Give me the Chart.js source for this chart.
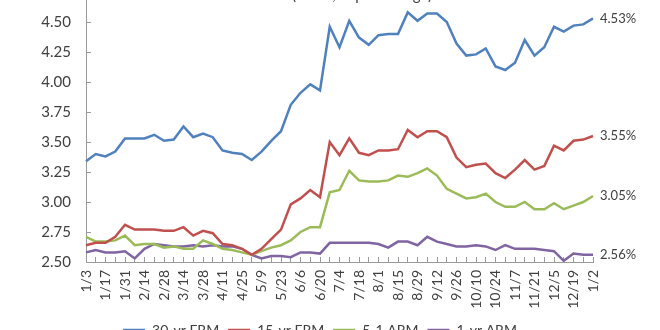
<!DOCTYPE html>
<html>
<head>
<meta charset="utf-8">
<script src="https://cdn.jsdelivr.net/npm/chart.js"></script>
<style>
  html, body { margin: 0; padding: 0; background: #fff; }
  #wrap { position: relative; width: 660px; height: 330px; overflow: hidden; background: #fff; }
  #holder { position: absolute; left: 0; top: -40px; width: 660px; height: 391px; }
</style>
</head>
<body>
<div id="wrap"><div id="holder"><canvas id="rateChart"></canvas></div></div>
<script>
// weekly survey dates, 1/3/2013 .. 1/2/2014
const weeks = ['1/3','1/10','1/17','1/24','1/31','2/7','2/14','2/21','2/28','3/7','3/14','3/21','3/28',
  '4/4','4/11','4/18','4/25','5/2','5/9','5/16','5/23','5/30','6/6','6/13','6/20','6/27',
  '7/4','7/11','7/18','7/25','8/1','8/8','8/15','8/22','8/29','9/5','9/12','9/19','9/26',
  '10/3','10/10','10/17','10/24','10/31','11/7','11/14','11/21','11/28','12/5','12/12','12/19','12/26','1/2'];

const frm30 = [3.34,3.40,3.38,3.42,3.53,3.53,3.53,3.56,3.51,3.52,3.63,3.54,3.57,3.54,3.43,3.41,3.40,3.35,3.42,3.51,
  3.59,3.81,3.91,3.98,3.93,4.46,4.29,4.51,4.37,4.31,4.39,4.40,4.40,4.58,4.51,4.57,4.57,4.50,4.32,4.22,
  4.23,4.28,4.13,4.10,4.16,4.35,4.22,4.29,4.46,4.42,4.47,4.48,4.53];
const frm15 = [2.64,2.66,2.66,2.71,2.81,2.77,2.77,2.77,2.76,2.76,2.79,2.72,2.76,2.74,2.65,2.64,2.61,2.56,2.61,2.69,
  2.77,2.98,3.03,3.10,3.04,3.50,3.39,3.53,3.41,3.39,3.43,3.43,3.44,3.60,3.54,3.59,3.59,3.54,3.37,3.29,
  3.31,3.32,3.24,3.20,3.27,3.35,3.27,3.30,3.47,3.43,3.51,3.52,3.55];
const arm51 = [2.71,2.67,2.67,2.68,2.72,2.64,2.65,2.65,2.62,2.63,2.61,2.61,2.68,2.65,2.61,2.60,2.58,2.56,2.59,2.62,
  2.64,2.68,2.75,2.79,2.79,3.08,3.10,3.26,3.18,3.17,3.17,3.18,3.22,3.21,3.24,3.28,3.22,3.11,3.07,3.03,
  3.04,3.07,3.00,2.96,2.96,3.00,2.94,2.94,2.99,2.94,2.97,3.00,3.05];
const arm1 = [2.58,2.60,2.58,2.58,2.59,2.53,2.61,2.65,2.64,2.63,2.63,2.64,2.63,2.64,2.63,2.63,2.61,2.56,2.53,2.55,
  2.55,2.54,2.58,2.58,2.57,2.66,2.66,2.66,2.66,2.66,2.65,2.62,2.67,2.67,2.64,2.71,2.67,2.65,2.63,2.63,
  2.64,2.63,2.60,2.64,2.61,2.61,2.61,2.60,2.59,2.51,2.57,2.56,2.56];

const seriesNames = ['30-yr FRM', '15-yr FRM', '5-1 ARM', '1-yr ARM'];
const seriesColors = ['#4F81BD', '#C0504D', '#9BBB59', '#8064A2'];
const yTicks = [2.50, 2.75, 3.00, 3.25, 3.50, 3.75, 4.00, 4.25, 4.50, 4.75];
const chartTitle = '(Rates, in percentage)';

const FONT = 'Lato, "Open Sans", sans-serif';
const TEXT = '#404040';
const AXIS = '#9a9a9a';

// end-of-line value labels and the overlapping title
const extrasPlugin = {
  id: 'extras',
  afterDatasetsDraw(chart) {
    const ctx = chart.ctx;
    ctx.save();
    ctx.fillStyle = TEXT;
    ctx.font = '13px ' + FONT;
    ctx.textAlign = 'left';
    ctx.textBaseline = 'middle';
    chart.data.datasets.forEach((ds, i) => {
      const meta = chart.getDatasetMeta(i);
      const pt = meta.data[meta.data.length - 1];
      ctx.fillText(ds.data[ds.data.length - 1].toFixed(2) + '%', pt.x + 7, pt.y);
    });
    ctx.font = '15px ' + FONT;
    ctx.textAlign = 'center';
    ctx.textBaseline = 'alphabetic';
    ctx.fillText(chartTitle, 362, 40);
    ctx.restore();
  }
};

const data = [frm30, frm15, arm51, arm1];

new Chart(document.getElementById('rateChart'), {
  type: 'line',
  data: {
    labels: weeks,
    datasets: data.map((d, i) => ({
      label: seriesNames[i],
      data: d,
      borderColor: seriesColors[i],
      backgroundColor: seriesColors[i],
      borderWidth: 2.5,
      pointRadius: 0,
      tension: 0,
      fill: false
    }))
  },
  options: {
    responsive: true,
    maintainAspectRatio: false,
    animation: false,
    layout: { padding: { top: 32, right: 20, left: 0, bottom: 4 } },
    scales: {
      x: {
        offset: false,
        afterFit: s => { s.height = 52; },
        grid: { drawOnChartArea: false, drawTicks: true, tickLength: -5, color: AXIS },
        border: { display: true, color: AXIS, width: 1 },
        ticks: {
          autoSkip: false,
          minRotation: 90,
          maxRotation: 90,
          padding: 13,
          color: TEXT,
          font: { family: FONT, size: 14 },
          callback: (v, i) => (i % 2 === 0 ? weeks[i] : '')
        }
      },
      y: {
        min: 2.5,
        max: 4.75,
        afterBuildTicks: s => { s.ticks = yTicks.map(v => ({ value: v })); },
        afterFit: s => { s.width = 86; },
        grid: { drawOnChartArea: false, drawTicks: true, tickLength: -5, color: AXIS },
        border: { display: true, color: AXIS, width: 1 },
        ticks: {
          padding: 20,
          color: TEXT,
          font: { family: FONT, size: 15 },
          callback: v => v.toFixed(2)
        }
      },
      // empty right-hand gutter that holds the end-of-line labels
      gutter: {
        type: 'linear',
        position: 'right',
        afterFit: s => { s.width = 47; },
        grid: { display: false },
        border: { display: false },
        ticks: { display: false }
      }
    },
    plugins: {
      legend: {
        position: 'bottom',
        labels: {
          usePointStyle: true,
          pointStyle: 'line',
          pointStyleWidth: 22,
          boxHeight: 10,
          padding: 9,
          color: TEXT,
          font: { family: FONT, size: 14 }
        }
      },
      title: { display: false },
      tooltip: { enabled: false }
    }
  },
  plugins: [extrasPlugin]
});
</script>
</body>
</html>
